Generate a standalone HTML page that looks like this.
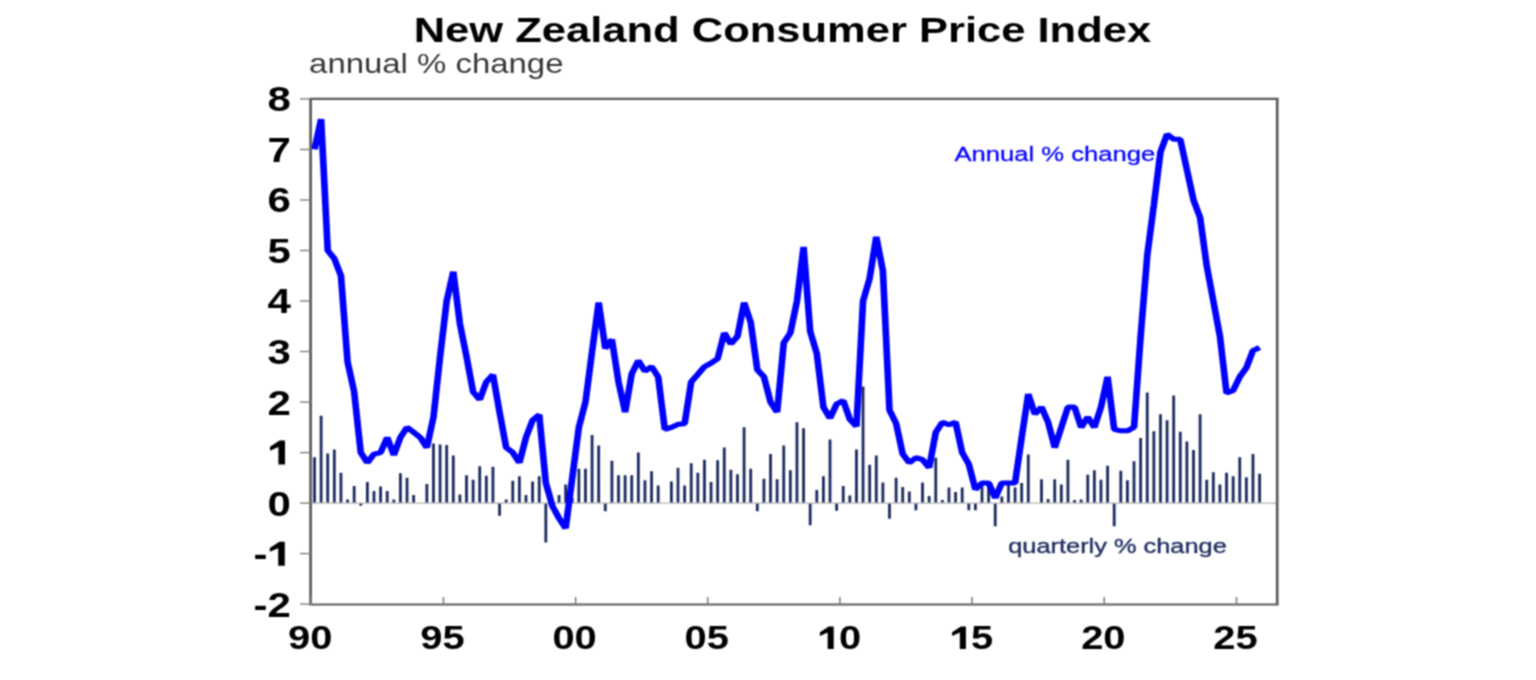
<!DOCTYPE html>
<html><head><meta charset="utf-8"><style>
html,body{margin:0;padding:0;background:#fff;width:1536px;height:680px;overflow:hidden}
#c{position:absolute;left:0;top:0;width:1536px;height:680px}
text{font-family:"Liberation Sans",sans-serif}
.ax{font-weight:bold;font-size:33.5px;fill:#000}
.ay{font-weight:bold;font-size:35px;fill:#000}
</style></head><body>
<div id="c"><svg width="1536" height="680" viewBox="0 0 1536 680">
<defs><filter id="bl" x="0" y="0" width="1536" height="680" filterUnits="userSpaceOnUse" color-interpolation-filters="sRGB"><feConvolveMatrix order="3 3" kernelMatrix="1 2 1 2 4 2 1 2 1" divisor="16" edgeMode="duplicate" preserveAlpha="true"/></filter></defs>
<g filter="url(#bl)"><rect x="0" y="0" width="1536" height="680" fill="#fff"/>
<text transform="translate(782.4 41.9) scale(1.226 1)" text-anchor="middle" style="font-weight:bold;font-size:35.5px;fill:#000">New Zealand Consumer Price Index</text>
<text transform="translate(309.1 73) scale(1.215 1)" style="font-size:27.1px;fill:#383838">annual % change</text>
<text transform="translate(954.5 160.8) scale(1.28 1)" style="font-size:20px;fill:#0000ff;stroke:#0000ff;stroke-width:0.25px">Annual % change</text>
<text transform="translate(1008.2 552.7) scale(1.282 1)" style="font-size:19.8px;fill:#1f2f62;stroke:#1f2f62;stroke-width:0.35px">quarterly % change</text>
<line x1="310.6" y1="503.1" x2="1277.2" y2="503.1" stroke="#b4b4b4" stroke-width="1.3"/>
<path d="M313.10 457.13h2.8V502.50h-2.8ZM319.71 415.70h2.8V502.50h-2.8ZM326.32 453.59h2.8V502.50h-2.8ZM332.93 449.55h2.8V502.50h-2.8ZM339.54 472.79h2.8V502.50h-2.8ZM346.15 499.56h2.8V502.50h-2.8ZM352.76 485.92h2.8V502.50h-2.8ZM359.37 503.70h2.8V505.63h-2.8ZM365.98 481.88h2.8V502.50h-2.8ZM372.59 490.98h2.8V502.50h-2.8ZM379.19 486.43h2.8V502.50h-2.8ZM385.80 490.98h2.8V502.50h-2.8ZM392.41 499.56h2.8V502.50h-2.8ZM399.02 473.29h2.8V502.50h-2.8ZM405.63 477.84h2.8V502.50h-2.8ZM412.24 495.02h2.8V502.50h-2.8ZM425.46 483.90h2.8V502.50h-2.8ZM432.07 443.49h2.8V502.50h-2.8ZM438.68 444.50h2.8V502.50h-2.8ZM445.28 445.00h2.8V502.50h-2.8ZM451.89 455.61h2.8V502.50h-2.8ZM458.50 494.51h2.8V502.50h-2.8ZM465.11 475.31h2.8V502.50h-2.8ZM471.72 479.86h2.8V502.50h-2.8ZM478.33 466.22h2.8V502.50h-2.8ZM484.94 475.82h2.8V502.50h-2.8ZM491.55 466.73h2.8V502.50h-2.8ZM498.16 503.70h2.8V515.73h-2.8ZM504.77 499.56h2.8V502.50h-2.8ZM511.37 480.87h2.8V502.50h-2.8ZM517.98 476.32h2.8V502.50h-2.8ZM524.59 495.02h2.8V502.50h-2.8ZM531.20 481.38h2.8V502.50h-2.8ZM537.81 476.32h2.8V502.50h-2.8ZM544.42 503.70h2.8V542.51h-2.8ZM557.64 495.02h2.8V502.50h-2.8ZM564.25 484.41h2.8V502.50h-2.8ZM570.86 498.05h2.8V502.50h-2.8ZM577.46 468.75h2.8V502.50h-2.8ZM584.07 468.75h2.8V502.50h-2.8ZM590.68 434.90h2.8V502.50h-2.8ZM597.29 445.51h2.8V502.50h-2.8ZM603.90 503.70h2.8V511.18h-2.8ZM610.51 460.66h2.8V502.50h-2.8ZM617.12 475.31h2.8V502.50h-2.8ZM623.73 475.31h2.8V502.50h-2.8ZM630.34 475.31h2.8V502.50h-2.8ZM636.95 452.58h2.8V502.50h-2.8ZM643.55 480.37h2.8V502.50h-2.8ZM650.16 471.27h2.8V502.50h-2.8ZM656.77 485.42h2.8V502.50h-2.8ZM669.99 481.38h2.8V502.50h-2.8ZM676.60 467.74h2.8V502.50h-2.8ZM683.21 485.42h2.8V502.50h-2.8ZM689.82 463.19h2.8V502.50h-2.8ZM696.43 472.79h2.8V502.50h-2.8ZM703.04 459.65h2.8V502.50h-2.8ZM709.64 481.88h2.8V502.50h-2.8ZM716.25 460.16h2.8V502.50h-2.8ZM722.86 447.53h2.8V502.50h-2.8ZM729.47 469.76h2.8V502.50h-2.8ZM736.08 474.30h2.8V502.50h-2.8ZM742.69 427.32h2.8V502.50h-2.8ZM749.30 468.75h2.8V502.50h-2.8ZM755.91 503.70h2.8V511.18h-2.8ZM762.52 478.85h2.8V502.50h-2.8ZM769.13 454.10h2.8V502.50h-2.8ZM775.73 479.36h2.8V502.50h-2.8ZM782.34 445.51h2.8V502.50h-2.8ZM788.95 470.26h2.8V502.50h-2.8ZM795.56 422.27h2.8V502.50h-2.8ZM802.17 428.33h2.8V502.50h-2.8ZM808.78 503.70h2.8V525.33h-2.8ZM815.39 489.96h2.8V502.50h-2.8ZM822.00 476.32h2.8V502.50h-2.8ZM828.61 439.44h2.8V502.50h-2.8ZM835.22 503.70h2.8V510.68h-2.8ZM841.82 485.92h2.8V502.50h-2.8ZM848.43 495.52h2.8V502.50h-2.8ZM855.04 449.55h2.8V502.50h-2.8ZM861.65 386.40h2.8V502.50h-2.8ZM868.26 464.70h2.8V502.50h-2.8ZM874.87 455.61h2.8V502.50h-2.8ZM881.48 482.39h2.8V502.50h-2.8ZM888.09 503.70h2.8V518.76h-2.8ZM894.70 477.84h2.8V502.50h-2.8ZM901.31 486.93h2.8V502.50h-2.8ZM907.91 491.48h2.8V502.50h-2.8ZM914.52 503.70h2.8V510.17h-2.8ZM921.13 482.39h2.8V502.50h-2.8ZM927.74 496.03h2.8V502.50h-2.8ZM934.35 457.63h2.8V502.50h-2.8ZM940.96 500.07h2.8V502.50h-2.8ZM947.57 487.44h2.8V502.50h-2.8ZM954.18 491.99h2.8V502.50h-2.8ZM960.79 487.44h2.8V502.50h-2.8ZM967.40 503.70h2.8V510.17h-2.8ZM974.00 503.70h2.8V510.17h-2.8ZM980.61 484.91h2.8V502.50h-2.8ZM987.22 484.91h2.8V502.50h-2.8ZM993.83 503.70h2.8V526.34h-2.8ZM1000.44 496.53h2.8V502.50h-2.8ZM1007.05 484.91h2.8V502.50h-2.8ZM1013.66 487.44h2.8V502.50h-2.8ZM1020.27 482.89h2.8V502.50h-2.8ZM1026.88 454.60h2.8V502.50h-2.8ZM1040.09 479.36h2.8V502.50h-2.8ZM1046.70 499.06h2.8V502.50h-2.8ZM1053.31 479.36h2.8V502.50h-2.8ZM1059.92 484.41h2.8V502.50h-2.8ZM1066.53 459.65h2.8V502.50h-2.8ZM1073.14 500.07h2.8V502.50h-2.8ZM1079.75 499.56h2.8V502.50h-2.8ZM1086.36 474.81h2.8V502.50h-2.8ZM1092.97 470.26h2.8V502.50h-2.8ZM1099.58 479.86h2.8V502.50h-2.8ZM1106.18 465.72h2.8V502.50h-2.8ZM1112.79 503.70h2.8V526.34h-2.8ZM1119.40 470.77h2.8V502.50h-2.8ZM1126.01 480.37h2.8V502.50h-2.8ZM1132.62 461.17h2.8V502.50h-2.8ZM1139.23 437.93h2.8V502.50h-2.8ZM1145.84 392.46h2.8V502.50h-2.8ZM1152.45 431.36h2.8V502.50h-2.8ZM1159.06 414.18h2.8V502.50h-2.8ZM1165.67 420.25h2.8V502.50h-2.8ZM1172.27 395.49h2.8V502.50h-2.8ZM1178.88 431.87h2.8V502.50h-2.8ZM1185.49 441.47h2.8V502.50h-2.8ZM1192.10 450.05h2.8V502.50h-2.8ZM1198.71 414.18h2.8V502.50h-2.8ZM1205.32 479.86h2.8V502.50h-2.8ZM1211.93 472.28h2.8V502.50h-2.8ZM1218.54 484.41h2.8V502.50h-2.8ZM1225.15 472.79h2.8V502.50h-2.8ZM1231.76 476.32h2.8V502.50h-2.8ZM1238.36 457.13h2.8V502.50h-2.8ZM1244.97 477.33h2.8V502.50h-2.8ZM1251.58 454.10h2.8V502.50h-2.8ZM1258.19 473.80h2.8V502.50h-2.8Z" fill="#1a2a5e"/>
<g transform="scale(1.33 1)"><polyline points="236.470,149.46 241.439,119.15 246.408,250.50 251.377,258.58 256.346,275.76 261.315,361.64 266.285,391.96 271.254,452.58 276.223,462.68 281.192,454.10 286.161,452.58 291.130,437.42 296.100,455.11 301.069,437.42 306.038,427.32 311.007,432.37 315.976,437.42 320.945,447.53 325.915,417.22 330.884,356.59 335.853,301.02 340.822,271.72 345.791,323.75 350.761,356.59 355.730,391.96 360.699,399.53 365.668,381.85 370.637,374.78 375.606,412.16 380.576,447.53 385.545,452.58 390.514,462.68 395.483,437.42 400.452,420.25 405.421,414.69 410.391,482.89 415.360,506.13 420.329,518.26 425.298,528.36 430.267,477.84 435.236,427.32 440.206,402.06 445.175,351.54 450.144,302.54 455.113,348.51 460.082,339.42 465.052,381.85 470.021,412.16 474.990,373.77 479.959,360.63 484.928,371.24 489.897,366.70 494.867,376.80 499.836,429.34 504.805,427.32 509.774,424.29 514.743,423.78 519.712,381.85 524.682,374.27 529.651,366.70 534.620,363.16 539.589,358.61 544.558,332.85 549.527,343.96 554.497,336.38 559.466,302.54 564.435,322.24 569.404,369.73 574.373,376.80 579.342,402.06 584.312,412.16 589.281,342.95 594.250,332.85 599.219,301.02 604.188,246.96 609.158,331.33 614.127,353.56 619.096,407.11 624.065,418.23 629.034,404.08 634.003,400.54 638.973,419.24 643.942,426.31 648.911,301.02 653.880,278.29 658.849,236.86 663.818,270.71 668.788,410.14 673.757,423.28 678.726,454.10 683.695,462.68 688.664,457.63 693.633,459.65 698.603,467.74 703.572,432.37 708.541,422.27 713.510,424.79 718.479,422.27 723.448,452.58 728.418,464.20 733.387,489.46 738.356,482.89 743.325,482.89 748.294,498.05 753.264,482.89 758.233,482.89 763.202,482.89 768.171,437.42 773.140,393.98 778.109,414.18 783.079,407.11 788.048,422.27 793.017,447.53 797.986,427.32 802.955,407.11 807.924,407.11 812.894,427.32 817.863,417.22 822.832,427.32 827.801,407.11 832.770,376.80 837.739,429.34 842.709,430.86 847.678,430.86 852.647,427.32 857.616,336.38 862.585,255.55 867.555,205.03 872.524,151.99 877.493,134.30 882.462,139.36 887.431,139.36 892.400,169.67 897.370,199.98 902.339,217.66 907.308,265.66 912.277,301.02 917.246,336.38 922.215,392.97 927.185,390.44 932.154,376.80 937.123,367.71 942.092,350.53 947.061,347.50" fill="none" stroke="#0000ff" stroke-width="5" stroke-linejoin="bevel"/></g>
<path d="M309.3 98.8H1278.5M309.3 604.5H1278.5" stroke="#5a5a5a" stroke-width="2.2" fill="none"/>
<path d="M310.6 98.8V604.5M1277.2 98.8V604.5" stroke="#5a5a5a" stroke-width="2.7" fill="none"/>
<line x1="300" y1="604.1" x2="310.6" y2="604.1" stroke="#808080" stroke-width="1.4"/>
<line x1="300" y1="553.6" x2="310.6" y2="553.6" stroke="#808080" stroke-width="1.4"/>
<line x1="300" y1="503.1" x2="310.6" y2="503.1" stroke="#808080" stroke-width="1.4"/>
<line x1="300" y1="452.6" x2="310.6" y2="452.6" stroke="#808080" stroke-width="1.4"/>
<line x1="300" y1="402.1" x2="310.6" y2="402.1" stroke="#808080" stroke-width="1.4"/>
<line x1="300" y1="351.5" x2="310.6" y2="351.5" stroke="#808080" stroke-width="1.4"/>
<line x1="300" y1="301.0" x2="310.6" y2="301.0" stroke="#808080" stroke-width="1.4"/>
<line x1="300" y1="250.5" x2="310.6" y2="250.5" stroke="#808080" stroke-width="1.4"/>
<line x1="300" y1="200.0" x2="310.6" y2="200.0" stroke="#808080" stroke-width="1.4"/>
<line x1="300" y1="149.5" x2="310.6" y2="149.5" stroke="#808080" stroke-width="1.4"/>
<line x1="300" y1="98.9" x2="310.6" y2="98.9" stroke="#808080" stroke-width="1.4"/>
<line x1="311.2" y1="597" x2="311.2" y2="604.5" stroke="#777" stroke-width="1.5"/>
<line x1="443.4" y1="597" x2="443.4" y2="604.5" stroke="#777" stroke-width="1.5"/>
<line x1="575.6" y1="597" x2="575.6" y2="604.5" stroke="#777" stroke-width="1.5"/>
<line x1="707.7" y1="597" x2="707.7" y2="604.5" stroke="#777" stroke-width="1.5"/>
<line x1="839.9" y1="597" x2="839.9" y2="604.5" stroke="#777" stroke-width="1.5"/>
<line x1="972.1" y1="597" x2="972.1" y2="604.5" stroke="#777" stroke-width="1.5"/>
<line x1="1104.3" y1="597" x2="1104.3" y2="604.5" stroke="#777" stroke-width="1.5"/>
<line x1="1236.5" y1="597" x2="1236.5" y2="604.5" stroke="#777" stroke-width="1.5"/>
<text transform="translate(290.8 616.5) scale(1.2 1)" text-anchor="end" class="ay">-2</text>
<text transform="translate(267.45 566.0) scale(1.2 1)" text-anchor="end" class="ay">-</text>
<text transform="translate(290.8 515.5) scale(1.2 1)" text-anchor="end" class="ay">0</text>
<text transform="translate(290.8 414.5) scale(1.2 1)" text-anchor="end" class="ay">2</text>
<text transform="translate(290.8 363.9) scale(1.2 1)" text-anchor="end" class="ay">3</text>
<text transform="translate(290.8 313.4) scale(1.2 1)" text-anchor="end" class="ay">4</text>
<text transform="translate(290.8 262.9) scale(1.2 1)" text-anchor="end" class="ay">5</text>
<text transform="translate(290.8 212.4) scale(1.2 1)" text-anchor="end" class="ay">6</text>
<text transform="translate(290.8 161.9) scale(1.2 1)" text-anchor="end" class="ay">7</text>
<text transform="translate(290.8 111.3) scale(1.2 1)" text-anchor="end" class="ay">8</text>
<text transform="translate(310.2 649.0) scale(1.19 1)" text-anchor="middle" class="ax">90</text>
<text transform="translate(442.4 649.0) scale(1.19 1)" text-anchor="middle" class="ax">95</text>
<text transform="translate(574.6 649.0) scale(1.19 1)" text-anchor="middle" class="ax">00</text>
<text transform="translate(706.7 649.0) scale(1.19 1)" text-anchor="middle" class="ax">05</text>
<text transform="translate(838.9 649.0) scale(1.19 1)" class="ax">0</text>
<text transform="translate(971.1 649.0) scale(1.19 1)" class="ax">5</text>
<text transform="translate(1103.3 649.0) scale(1.19 1)" text-anchor="middle" class="ax">20</text>
<text transform="translate(1235.5 649.0) scale(1.19 1)" text-anchor="middle" class="ax">25</text>
<path d="M284.80 541.72L284.80 565.72L278.20 565.72L278.20 548.20L269.80 551.80L269.80 547.96L279.40 541.72ZM285.00 440.58L285.00 464.58L278.40 464.58L278.40 447.06L270.00 450.66L270.00 446.82L279.60 440.58ZM833.72 626.40L833.72 649.10L827.65 649.10L827.65 632.53L819.92 635.93L819.92 632.30L828.75 626.40ZM965.90 626.40L965.90 649.10L959.83 649.10L959.83 632.53L952.10 635.93L952.10 632.30L960.93 626.40Z" fill="#000"/>
</g></svg></div>
</body></html>
